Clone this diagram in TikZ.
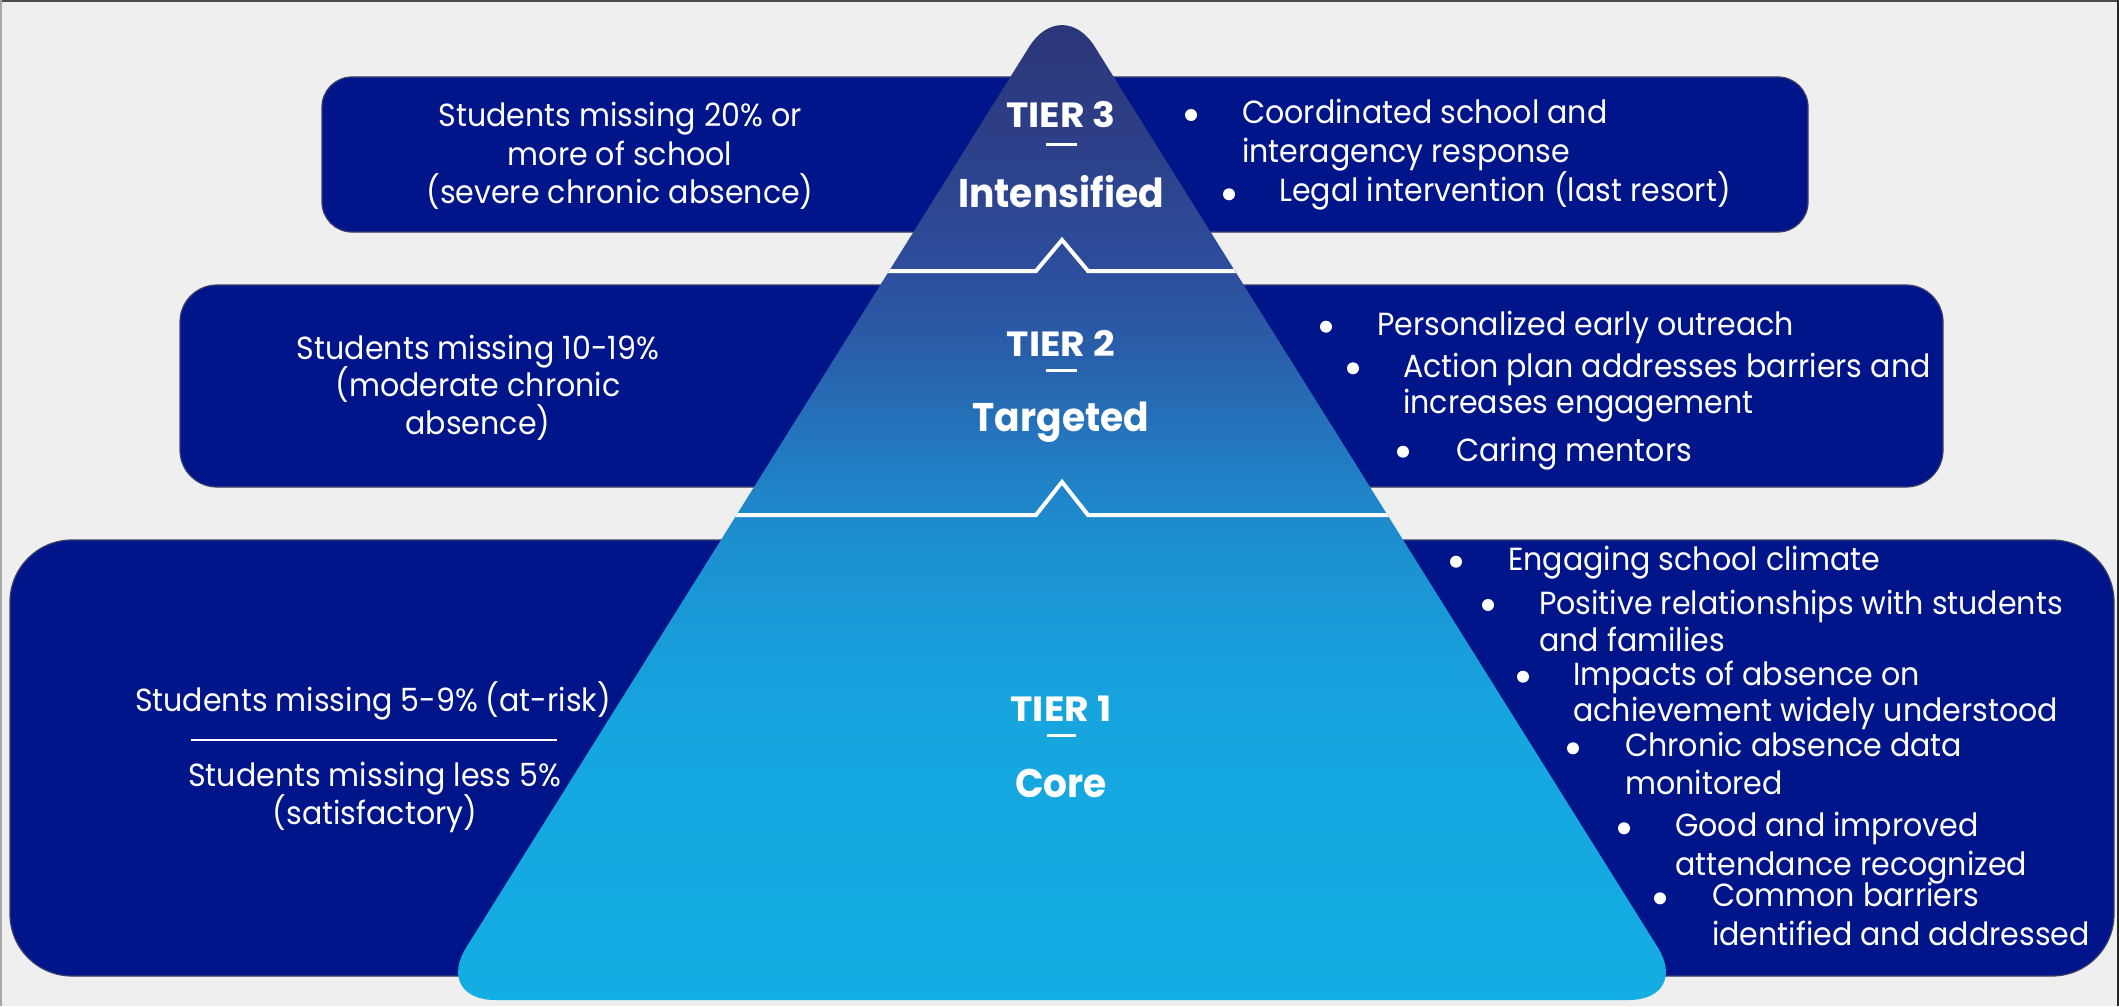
\documentclass[tikz,border=0pt]{standalone}
\usepackage{fontspec}
\setmainfont{Poppins}[FakeStretch=0.94]
\newfontfamily\tierfont{Poppins}[FakeStretch=1.08]
\definecolor{bg}{HTML}{EFEFEF}
\definecolor{navy}{HTML}{001589}
\definecolor{boxedge}{HTML}{3C3F66}
\definecolor{gA}{HTML}{2B3577}
\definecolor{gB}{HTML}{2D3F88}
\definecolor{gC}{HTML}{2D4E9C}
\definecolor{gD}{HTML}{2A5CA8}
\definecolor{gE}{HTML}{2474BC}
\definecolor{gF}{HTML}{1E8ACC}
\definecolor{gG}{HTML}{1A98D6}
\definecolor{gH}{HTML}{16A5DE}
\definecolor{gI}{HTML}{13AEE3}
\tikzset{
  body/.style={text=white, inner sep=0pt, font=\fontsize{32}{38}\selectfont},
  tierlbl/.style={text=white, inner sep=0pt, font=\tierfont\bfseries\fontsize{35}{40}\selectfont},
  tiername/.style={text=white, inner sep=0pt, font=\bfseries\fontsize{40}{48}\selectfont},
  bulletdot/.style={circle, fill=white, inner sep=0pt, minimum size=12pt},
  dashline/.style={white, line width=3pt},
  sepline/.style={white, line width=4pt},
  tierbox/.style={fill=navy, draw=boxedge, line width=1.2pt},
}
\begin{document}
\begin{tikzpicture}[x=1pt,y=-1pt]
\useasboundingbox (0,0) rectangle (2119,1006);
\fill[bg] (0,0) rectangle (2119,1006);
% frame
\draw[line width=2pt, color=black!70] (0,1) -- (2119,1);
\draw[line width=2pt, color=black!85] (2118,0) -- (2118,1006);
\draw[line width=1.5pt, color=black!35] (0.75,0) -- (0.75,1006);

% boxes
\draw[tierbox, rounded corners=30pt] (322,77) rectangle (1808,232);
\draw[tierbox, rounded corners=37pt] (180,285) rectangle (1943,487);
\draw[tierbox, rounded corners=62pt] (10,540) rectangle (2114,976);

% pyramid
\begin{scope}
\clip[rounded corners=62pt] (1062,1000) -- (1690.6,1000) -- (1062,-5.7) -- (433.4,1000) -- cycle;
\shade[top color=gA, bottom color=gB] (400,0) rectangle (1720,141);
\shade[top color=gB, bottom color=gC] (400,140) rectangle (1720,271);
\shade[top color=gC, bottom color=gD] (400,270) rectangle (1720,341);
\shade[top color=gD, bottom color=gE] (400,340) rectangle (1720,431);
\shade[top color=gE, bottom color=gF] (400,430) rectangle (1720,516);
\shade[top color=gF, bottom color=gG] (400,515) rectangle (1720,601);
\shade[top color=gG, bottom color=gH] (400,600) rectangle (1720,721);
\shade[top color=gH, bottom color=gI] (400,720) rectangle (1720,1006);
\draw[sepline] (400,271) -- (1036,271) -- (1062,240) -- (1088,271) -- (1720,271);
\draw[sepline] (400,515) -- (1036,515) -- (1062,482) -- (1088,515) -- (1720,515);
\end{scope}

% ---- Tier 3
\node[body, anchor=base] (t3l1) at (620,127) {Students missing 20\% or};
\node[body, anchor=base] (t3l2) at (620,165) {more of school};
\node[body, anchor=base] (t3l3) at (620,203) {(severe chronic absence)};
\node[tierlbl, anchor=base] (t3tier) at (1061,128) {TIER 3};
\coordinate (t3da) at (1046,144);
\coordinate (t3db) at (1077,144);
\draw[dashline] (t3da) -- (t3db);
\node[tiername, anchor=base] (t3name) at (1061,207) {Intensified};
\node[bulletdot] (t3b1) at (1191,115) {};
\node[body, anchor=base west] (t3r1) at (1242,124) {Coordinated school and};
\node[body, anchor=base west] (t3r1b) at (1242,162.7) {interagency response};
\node[bulletdot] (t3b2) at (1229,194.3) {};
\node[body, anchor=base west] (t3r2) at (1279,201.7) {Legal intervention (last resort)};

% ---- Tier 2
\node[body, anchor=base] (t2l1) at (478,359.3) {Students missing 10-19\%};
\node[body, anchor=base] (t2l2) at (478,396.7) {(moderate chronic};
\node[body, anchor=base] (t2l3) at (478,434.3) {absence)};
\node[tierlbl, anchor=base] (t2tier) at (1061,356) {TIER 2};
\coordinate (t2da) at (1046,370);
\coordinate (t2db) at (1077,370);
\draw[dashline] (t2da) -- (t2db);
\node[tiername, anchor=base] (t2name) at (1061,431.7) {Targeted};
\node[bulletdot] (t2b1) at (1326,326.7) {};
\node[body, anchor=base west] (t2r1) at (1377,335) {Personalized early outreach};
\node[bulletdot] (t2b2) at (1353,368.3) {};
\node[body, anchor=base west] (t2r2) at (1403,377.3) {Action plan addresses barriers and};
\node[body, anchor=base west] (t2r2b) at (1403,413.3) {increases engagement};
\node[bulletdot] (t2b3) at (1403,451.7) {};
\node[body, anchor=base west] (t2r3) at (1456,461.7) {Caring mentors};

% ---- Tier 1
\node[body, anchor=base] (t1l1) at (373,711.7) {Students missing 5-9\% (at-risk)};
\coordinate (t1sa) at (191,740);
\coordinate (t1sb) at (557,740);
\draw[white, line width=1.2pt] (t1sa) -- (t1sb);
\node[body, anchor=base] (t1l2) at (374.6,786.7) {Students missing less 5\%};
\node[body, anchor=base] (t1l3) at (375,824) {(satisfactory)};
\node[tierlbl, anchor=base] (t1tier) at (1061,721) {TIER 1};
\coordinate (t1da) at (1047,735.5);
\coordinate (t1db) at (1076,735.5);
\draw[dashline] (t1da) -- (t1db);
\node[tiername, anchor=base] (t1name) at (1061,797.5) {Core};
\node[bulletdot] (t1b1) at (1456,561.7) {};
\node[body, anchor=base west] (t1r1) at (1508,570) {Engaging school climate};
\node[bulletdot] (t1b2) at (1488,605) {};
\node[body, anchor=base west] (t1r2) at (1539,614.3) {Positive relationships with students};
\node[body, anchor=base west] (t1r2b) at (1539,651) {and families};
\node[bulletdot] (t1b3) at (1523,676.7) {};
\node[body, anchor=base west] (t1r3) at (1573,685) {Impacts of absence on};
\node[body, anchor=base west] (t1r3b) at (1573,721) {achievement widely understood};
\node[bulletdot] (t1b4) at (1573,748.3) {};
\node[body, anchor=base west] (t1r4) at (1625,756.7) {Chronic absence data};
\node[body, anchor=base west] (t1r4b) at (1625,794) {monitored};
\node[bulletdot] (t1b5) at (1624,828.3) {};
\node[body, anchor=base west] (t1r5) at (1675,836.7) {Good and improved};
\node[body, anchor=base west] (t1r5b) at (1675,875) {attendance recognized};
\node[bulletdot] (t1b6) at (1660,898.3) {};
\node[body, anchor=base west] (t1r6) at (1712,906.7) {Common barriers};
\node[body, anchor=base west] (t1r6b) at (1712,945) {identified and addressed};
\end{tikzpicture}
\end{document}
